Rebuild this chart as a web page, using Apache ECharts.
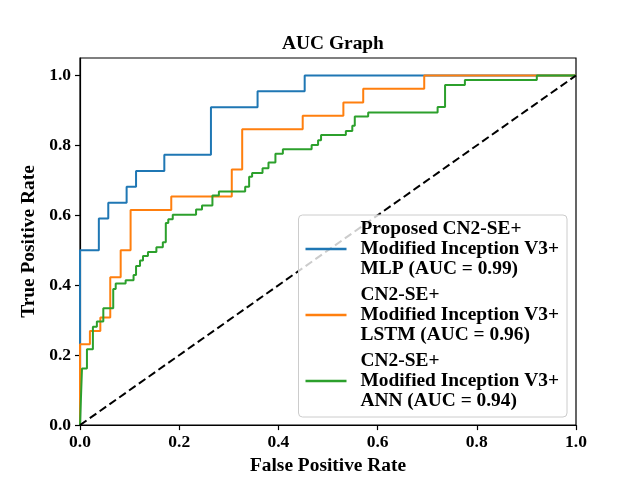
<!DOCTYPE html>
<html lang="en">

<head>
  <meta charset="utf-8">
  <title>AUC Graph</title>
  <style>
    html, body {
      margin: 0;
      padding: 0;
      background: #fff;
    }

    .box {
      width: 640px;
      height: 480px;
    }
  </style>
</head>

<body>
  <script src="https://cdn.jsdelivr.net/npm/echarts@6/dist/echarts.min.js"></script>

  <div class="box"></div>

  <script>
    // legend names
    var seriesNames = [
      'Proposed CN2-SE+\nModified Inception V3+\nMLP (AUC = 0.99)',
      'CN2-SE+\nModified Inception V3+\nLSTM (AUC = 0.96)',
      'CN2-SE+\nModified Inception V3+\nANN (AUC = 0.94)'
    ];

    // ROC points
    var mlpFpr = [0, 0, 0.038, 0.038, 0.057, 0.057, 0.094, 0.094, 0.113, 0.113, 0.170, 0.170, 0.264, 0.264, 0.358, 0.358, 0.453, 0.453, 1];
    var mlpTpr = [0, 0.5, 0.5, 0.591, 0.591, 0.636, 0.636, 0.682, 0.682, 0.727, 0.727, 0.773, 0.773, 0.909, 0.909, 0.955, 0.955, 1, 1];

    var lstmFpr = [0, 0, 0.020, 0.020, 0.041, 0.041, 0.061, 0.061, 0.082, 0.082, 0.102, 0.102, 0.184, 0.184, 0.306, 0.306, 0.327, 0.327, 0.449, 0.449, 0.531, 0.531, 0.571, 0.571, 0.694, 0.694, 1];
    var lstmTpr = [0, 0.231, 0.231, 0.269, 0.269, 0.308, 0.308, 0.423, 0.423, 0.5, 0.5, 0.615, 0.615, 0.654, 0.654, 0.731, 0.731, 0.846, 0.846, 0.885, 0.885, 0.923, 0.923, 0.962, 0.962, 1, 1];

    var annFpr = [0, 0.004, 0.004, 0.014, 0.014, 0.026, 0.026, 0.034, 0.034, 0.047, 0.047, 0.067, 0.067, 0.072, 0.072, 0.092, 0.092, 0.108, 0.108, 0.113, 0.113, 0.121, 0.121, 0.127, 0.127, 0.137, 0.137, 0.154, 0.154, 0.167, 0.167, 0.173, 0.173, 0.178, 0.178, 0.187, 0.187, 0.234, 0.234, 0.246, 0.246, 0.267, 0.267, 0.280, 0.280, 0.333, 0.333, 0.341, 0.341, 0.347, 0.347, 0.368, 0.368, 0.380, 0.380, 0.394, 0.394, 0.409, 0.409, 0.467, 0.467, 0.480, 0.480, 0.486, 0.486, 0.536, 0.536, 0.549, 0.549, 0.554, 0.554, 0.581, 0.581, 0.721, 0.721, 0.736, 0.736, 0.776, 0.776, 0.921, 0.921, 1];
    var annTpr = [0, 0, 0.162, 0.162, 0.217, 0.217, 0.281, 0.281, 0.296, 0.296, 0.334, 0.334, 0.389, 0.389, 0.405, 0.405, 0.414, 0.414, 0.429, 0.429, 0.455, 0.455, 0.471, 0.471, 0.484, 0.484, 0.495, 0.495, 0.509, 0.509, 0.523, 0.523, 0.578, 0.578, 0.589, 0.589, 0.602, 0.602, 0.617, 0.617, 0.628, 0.628, 0.657, 0.657, 0.668, 0.668, 0.682, 0.682, 0.710, 0.710, 0.721, 0.721, 0.735, 0.735, 0.751, 0.751, 0.776, 0.776, 0.789, 0.789, 0.801, 0.801, 0.815, 0.815, 0.830, 0.830, 0.841, 0.841, 0.856, 0.856, 0.883, 0.883, 0.894, 0.894, 0.910, 0.910, 0.973, 0.973, 0.987, 0.987, 1, 1];

    // chance line
    var diagX = [0, 1];
    var diagY = [0, 1];

    var xTicks = [0, 0.2, 0.4, 0.6, 0.8, 1.0];
    var yTicks = [0, 0.2, 0.4, 0.6, 0.8, 1.0];

    var colors = ['#1f77b4', '#ff7f0e', '#2ca02c'];
    var font = "'Liberation Serif', 'Times New Roman', serif";

    function pairs(xs, ys) {
      var out = [];
      for (var i = 0; i < xs.length; i++) {
        out.push([xs[i], ys[i]]);
      }
      return out;
    }

    var box = document.querySelector('.box');
    var myChart = echarts.init(box);

    var curves = [
      pairs(mlpFpr, mlpTpr),
      pairs(lstmFpr, lstmTpr),
      pairs(annFpr, annTpr)
    ];

    var series = curves.map(function (d, i) {
      return {
        name: seriesNames[i],
        type: 'line',
        data: d,
        symbol: 'none',
        color: colors[i],
        lineStyle: { width: 2, color: colors[i] },
        z: 2
      };
    });
    series.push({
      type: 'line',
      data: pairs(diagX, diagY),
      symbol: 'none',
      lineStyle: { width: 2, color: '#000', type: [8, 4] },
      z: 3
    });

    var axisStyle = {
      axisLine: { show: true, lineStyle: { color: '#000', width: 1.2 } },
      axisTick: { show: true, inside: false, length: 5, lineStyle: { color: '#000', width: 1.2 } },
      splitLine: { show: false }
    };

    var option = {
      animation: false,
      title: {
        text: 'AUC Graph',
        left: 328,
        top: 29,
        textAlign: 'center',
        textStyle: { fontFamily: font, fontWeight: 'bold', fontSize: 19.4, color: '#000' }
      },
      grid: {
        left: 80,
        right: 64,
        top: 58,
        bottom: 52,
        show: true,
        borderColor: '#000',
        borderWidth: 1.2,
        backgroundColor: '#fff'
      },
      legend: {
        data: seriesNames,
        orient: 'vertical',
        right: 73,
        top: 215,
        padding: [4, 8, 6, 7],
        itemGap: 6,
        icon: 'rect',
        itemWidth: 41,
        itemHeight: 2.5,
        backgroundColor: 'rgba(255,255,255,0.8)',
        borderColor: '#cccccc',
        borderWidth: 1,
        borderRadius: 4,
        textStyle: {
          fontFamily: font,
          fontWeight: 'bold',
          fontSize: 19.4,
          lineHeight: 20,
          color: '#000',
          padding: [0, 0, 0, 9]
        }
      },
      xAxis: Object.assign({
        type: 'value',
        min: 0,
        max: 1,
        interval: 0.2,
        name: 'False Positive Rate',
        nameLocation: 'middle',
        nameGap: 30,
        nameTextStyle: { fontFamily: font, fontWeight: 'bold', fontSize: 19.4, color: '#000' },
        axisLabel: {
          customValues: xTicks,
          margin: 8,
          fontFamily: font,
          fontWeight: 'bold',
          fontSize: 17.5,
          color: '#000',
          formatter: function (v) { return v.toFixed(1); }
        }
      }, axisStyle),
      yAxis: Object.assign({
        type: 'value',
        min: 0,
        max: 1.05,
        name: 'True Positive Rate',
        nameLocation: 'middle',
        nameGap: 42,
        nameTextStyle: { fontFamily: font, fontWeight: 'bold', fontSize: 19.4, color: '#000' },
        axisLabel: {
          customValues: yTicks,
          margin: 9,
          fontFamily: font,
          fontWeight: 'bold',
          fontSize: 17.5,
          color: '#000',
          formatter: function (v) { return v.toFixed(1); }
        }
      }, axisStyle, {
        axisTick: { show: true, inside: false, length: 5, customValues: yTicks, lineStyle: { color: '#000', width: 1.2 } }
      }),
      series: series
    };
    myChart.setOption(option);
  </script>

</body>

</html>
